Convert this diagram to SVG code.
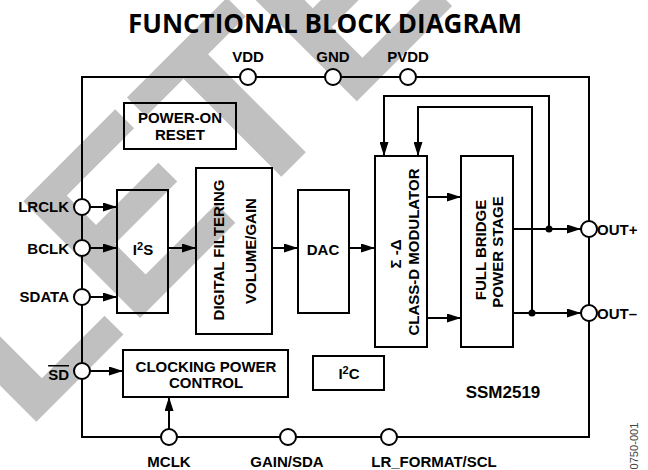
<svg xmlns="http://www.w3.org/2000/svg" width="648" height="470" viewBox="0 0 648 470">
<defs>
<style>
.t{font-family:"Liberation Sans",Arial,sans-serif;font-weight:bold;font-size:15px;fill:#000}
.box{fill:none;stroke:#000;stroke-width:2}
.ln{fill:none;stroke:#000;stroke-width:2}
.pin{fill:#fff;stroke:#000;stroke-width:2}
.wm{font-family:"Liberation Sans",Arial,sans-serif;font-weight:bold;font-size:240px;fill:#c0c0c0}
</style>
<marker id="ah" viewBox="0 0 14 9" refX="14" refY="4.5" markerWidth="14" markerHeight="9" markerUnits="userSpaceOnUse" orient="auto">
<path d="M0,0 L14,4.5 L0,9 z" fill="#000"/>
</marker>
</defs>
<rect width="648" height="470" fill="#fff"/>
<g id="watermark">
<text class="wm" transform="translate(25,433) rotate(-45)" x="0" y="0">LETE</text>
</g>
<text x="325" y="33" text-anchor="middle" textLength="394" lengthAdjust="spacingAndGlyphs" style="font-family:'Open Sans','Liberation Sans',sans-serif;font-weight:bold;font-size:26px">FUNCTIONAL BLOCK DIAGRAM</text>
<g id="chip">
<rect class="box" x="82" y="77" width="507" height="360"/>
<text class="t" x="503" y="398" text-anchor="middle" style="font-size:17px">SSM2519</text>
</g>
<g id="connectors">
<line class="ln" x1="90" y1="207" x2="117" y2="207" marker-end="url(#ah)"/>
<line class="ln" x1="90" y1="248" x2="117" y2="248" marker-end="url(#ah)"/>
<line class="ln" x1="90" y1="297" x2="117" y2="297" marker-end="url(#ah)"/>
<line class="ln" x1="90" y1="371" x2="123" y2="371" marker-end="url(#ah)"/>
<line class="ln" x1="169" y1="429" x2="169" y2="397" marker-end="url(#ah)"/>
<line class="ln" x1="168" y1="248" x2="196" y2="248" marker-end="url(#ah)"/>
<line class="ln" x1="272" y1="248" x2="298" y2="248" marker-end="url(#ah)"/>
<line class="ln" x1="349" y1="248" x2="375" y2="248" marker-end="url(#ah)"/>
<line class="ln" x1="427" y1="197" x2="461" y2="197" marker-end="url(#ah)"/>
<line class="ln" x1="427" y1="318" x2="461" y2="318" marker-end="url(#ah)"/>
<line class="ln" x1="513" y1="229" x2="581" y2="229" marker-end="url(#ah)"/>
<line class="ln" x1="513" y1="313" x2="581" y2="313" marker-end="url(#ah)"/>
<polyline class="ln" points="549,229 549,96 384,96 384,156" marker-end="url(#ah)"/>
<polyline class="ln" points="532,313 532,107 418,107 418,156" marker-end="url(#ah)"/>
<circle cx="549" cy="229" r="3.5" fill="#000"/>
<circle cx="532" cy="313" r="3.5" fill="#000"/>
</g>
<g id="por">
<rect class="box" x="124" y="103" width="112" height="46"/>
<text class="t" x="180" y="123" text-anchor="middle">POWER-ON</text>
<text class="t" x="180" y="140" text-anchor="middle">RESET</text>
</g>
<g id="i2s">
<rect class="box" x="117" y="190" width="51" height="123"/>
<text class="t" x="143" y="255" text-anchor="middle">I<tspan font-size="11" dy="-5">2</tspan><tspan dy="5">S</tspan></text>
</g>
<g id="dfilter">
<rect class="box" x="196" y="168" width="76" height="166"/>
<text class="t" transform="translate(224,250) rotate(-90)" text-anchor="middle">DIGITAL FILTERING</text>
<text class="t" transform="translate(256,251) rotate(-90)" text-anchor="middle">VOLUME/GAIN</text>
</g>
<g id="dac">
<rect class="box" x="298" y="190" width="51" height="123"/>
<text class="t" x="323" y="255" text-anchor="middle">DAC</text>
</g>
<g id="modulator">
<rect class="box" x="375" y="156" width="52" height="191"/>
<text class="t" transform="translate(401,254) rotate(-90)" text-anchor="middle">Σ -Δ</text>
<text class="t" transform="translate(419,252) rotate(-90)" text-anchor="middle">CLASS-D MODULATOR</text>
</g>
<g id="powerstage">
<rect class="box" x="461" y="156" width="52" height="191"/>
<text class="t" transform="translate(486,250) rotate(-90)" text-anchor="middle">FULL BRIDGE</text>
<text class="t" transform="translate(503,252) rotate(-90)" text-anchor="middle">POWER STAGE</text>
</g>
<g id="clocking">
<rect class="box" x="123" y="350" width="165" height="47"/>
<text class="t" x="206" y="372" text-anchor="middle">CLOCKING POWER</text>
<text class="t" x="206" y="388" text-anchor="middle">CONTROL</text>
</g>
<g id="i2c">
<rect class="box" x="313" y="356" width="71" height="34"/>
<text class="t" x="349" y="379" text-anchor="middle">I<tspan font-size="11" dy="-5">2</tspan><tspan dy="5">C</tspan></text>
</g>
<g id="pin-vdd"><circle class="pin" cx="248" cy="77" r="8"/><text class="t" x="248" y="62" text-anchor="middle">VDD</text></g>
<g id="pin-gnd"><circle class="pin" cx="333" cy="77" r="8"/><text class="t" x="333" y="62" text-anchor="middle">GND</text></g>
<g id="pin-pvdd"><circle class="pin" cx="408" cy="77" r="8"/><text class="t" x="408" y="62" text-anchor="middle">PVDD</text></g>
<g id="pin-lrclk"><circle class="pin" cx="82" cy="207" r="8"/><text class="t" x="69" y="212" text-anchor="end">LRCLK</text></g>
<g id="pin-bclk"><circle class="pin" cx="82" cy="248" r="8"/><text class="t" x="69" y="254" text-anchor="end">BCLK</text></g>
<g id="pin-sdata"><circle class="pin" cx="82" cy="297" r="8"/><text class="t" x="69" y="302" text-anchor="end">SDATA</text></g>
<g id="pin-sd"><circle class="pin" cx="82" cy="371" r="8"/><text class="t" x="69" y="380" text-anchor="end" text-decoration="overline">SD</text></g>
<g id="pin-mclk"><circle class="pin" cx="169" cy="437" r="8"/><text class="t" x="169" y="467" text-anchor="middle">MCLK</text></g>
<g id="pin-gain"><circle class="pin" cx="288" cy="437" r="8"/><text class="t" x="287" y="467" text-anchor="middle">GAIN/SDA</text></g>
<g id="pin-lrformat"><circle class="pin" cx="389" cy="437" r="8"/><text class="t" x="434" y="467" text-anchor="middle">LR_FORMAT/SCL</text></g>
<g id="pin-outp"><circle class="pin" cx="589" cy="229" r="8"/><text class="t" x="597" y="235">OUT+</text></g>
<g id="pin-outm"><circle class="pin" cx="589" cy="313" r="8"/><text class="t" x="597" y="319">OUT–</text></g>
<text transform="translate(638,446) rotate(-90)" text-anchor="middle" textLength="47" lengthAdjust="spacingAndGlyphs" style="font-family:'Liberation Sans',Arial,sans-serif;font-size:11px;fill:#444">0750-001</text>
</svg>
